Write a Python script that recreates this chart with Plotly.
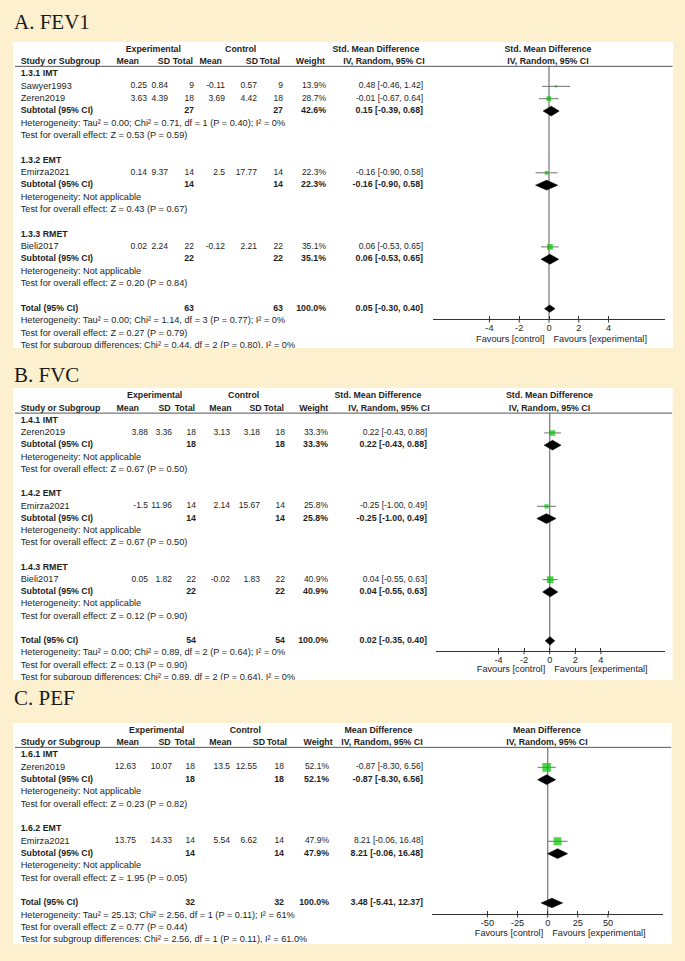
import plotly.graph_objects as go

W, H = 685, 961

# ======================= DATA =======================
# ---- A. FEV1 ----
A_subgroups = ["1.3.1 IMT", "1.3.2 EMT", "1.3.3 RMET"]
A_study = ["Sawyer1993", "Zeren2019", "Emirza2021", "Bieli2017"]
A_study_sub = [0, 0, 1, 2]
A_exp_mean = [0.25, 3.63, 0.14, 0.02]
A_exp_sd = [0.84, 4.39, 9.37, 2.24]
A_exp_n = [9, 18, 14, 22]
A_ctl_mean = [-0.11, 3.69, 2.5, -0.12]
A_ctl_sd = [0.57, 4.42, 17.77, 2.21]
A_ctl_n = [9, 18, 14, 22]
A_weight = [13.9, 28.7, 22.3, 35.1]
A_est = [0.48, -0.01, -0.16, 0.06]
A_lo = [-0.46, -0.67, -0.90, -0.53]
A_hi = [1.42, 0.64, 0.58, 0.65]
A_sub_exp_n = [27, 14, 22]
A_sub_ctl_n = [27, 14, 22]
A_sub_weight = [42.6, 22.3, 35.1]
A_sub_est = [0.15, -0.16, 0.06]
A_sub_lo = [-0.39, -0.90, -0.53]
A_sub_hi = [0.68, 0.58, 0.65]
A_sub_het = ["Heterogeneity: Tau² = 0.00; Chi² = 0.71, df = 1 (P = 0.40); I² = 0%",
             "Heterogeneity: Not applicable",
             "Heterogeneity: Not applicable"]
A_sub_z = ["Test for overall effect: Z = 0.53 (P = 0.59)",
           "Test for overall effect: Z = 0.43 (P = 0.67)",
           "Test for overall effect: Z = 0.20 (P = 0.84)"]
A_tot_n = [63, 63]
A_tot_weight = 100.0
A_tot_ci = [0.05, -0.30, 0.40]
A_tot_het = "Heterogeneity: Tau² = 0.00; Chi² = 1.14, df = 3 (P = 0.77); I² = 0%"
A_tot_z = "Test for overall effect: Z = 0.27 (P = 0.79)"
A_subdiff = "Test for subgroup differences: Chi² = 0.44, df = 2 (P = 0.80), I² = 0%"
A_ticks = [-4, -2, 0, 2, 4]

# ---- B. FVC ----
B_subgroups = ["1.4.1 IMT", "1.4.2 EMT", "1.4.3 RMET"]
B_study = ["Zeren2019", "Emirza2021", "Bieli2017"]
B_study_sub = [0, 1, 2]
B_exp_mean = [3.88, -1.5, 0.05]
B_exp_sd = [3.36, 11.96, 1.82]
B_exp_n = [18, 14, 22]
B_ctl_mean = [3.13, 2.14, -0.02]
B_ctl_sd = [3.18, 15.67, 1.83]
B_ctl_n = [18, 14, 22]
B_weight = [33.3, 25.8, 40.9]
B_est = [0.22, -0.25, 0.04]
B_lo = [-0.43, -1.00, -0.55]
B_hi = [0.88, 0.49, 0.63]
B_sub_exp_n = [18, 14, 22]
B_sub_ctl_n = [18, 14, 22]
B_sub_weight = [33.3, 25.8, 40.9]
B_sub_est = [0.22, -0.25, 0.04]
B_sub_lo = [-0.43, -1.00, -0.55]
B_sub_hi = [0.88, 0.49, 0.63]
B_sub_het = ["Heterogeneity: Not applicable"] * 3
B_sub_z = ["Test for overall effect: Z = 0.67 (P = 0.50)",
           "Test for overall effect: Z = 0.67 (P = 0.50)",
           "Test for overall effect: Z = 0.12 (P = 0.90)"]
B_tot_n = [54, 54]
B_tot_weight = 100.0
B_tot_ci = [0.02, -0.35, 0.40]
B_tot_het = "Heterogeneity: Tau² = 0.00; Chi² = 0.89, df = 2 (P = 0.64); I² = 0%"
B_tot_z = "Test for overall effect: Z = 0.13 (P = 0.90)"
B_subdiff = "Test for subgroup differences: Chi² = 0.89, df = 2 (P = 0.64), I² = 0%"
B_ticks = [-4, -2, 0, 2, 4]

# ---- C. PEF ----
C_subgroups = ["1.6.1 IMT", "1.6.2 EMT"]
C_study = ["Zeren2019", "Emirza2021"]
C_study_sub = [0, 1]
C_exp_mean = [12.63, 13.75]
C_exp_sd = [10.07, 14.33]
C_exp_n = [18, 14]
C_ctl_mean = [13.5, 5.54]
C_ctl_sd = [12.55, 6.62]
C_ctl_n = [18, 14]
C_weight = [52.1, 47.9]
C_est = [-0.87, 8.21]
C_lo = [-8.30, -0.06]
C_hi = [6.56, 16.48]
C_sub_exp_n = [18, 14]
C_sub_ctl_n = [18, 14]
C_sub_weight = [52.1, 47.9]
C_sub_est = [-0.87, 8.21]
C_sub_lo = [-8.30, -0.06]
C_sub_hi = [6.56, 16.48]
C_sub_het = ["Heterogeneity: Not applicable"] * 2
C_sub_z = ["Test for overall effect: Z = 0.23 (P = 0.82)",
           "Test for overall effect: Z = 1.95 (P = 0.05)"]
C_tot_n = [32, 32]
C_tot_weight = 100.0
C_tot_ci = [3.48, -5.41, 12.37]
C_tot_het = "Heterogeneity: Tau² = 25.13; Chi² = 2.56, df = 1 (P = 0.11); I² = 61%"
C_tot_z = "Test for overall effect: Z = 0.77 (P = 0.44)"
C_subdiff = "Test for subgroup differences: Chi² = 2.56, df = 1 (P = 0.11), I² = 61.0%"
C_ticks = [-50, -25, 0, 25, 50]


def pack(prefix, title, measure):
    g = globals()
    keys = ["subgroups", "study", "study_sub", "exp_mean", "exp_sd", "exp_n", "ctl_mean",
            "ctl_sd", "ctl_n", "weight", "est", "lo", "hi", "sub_exp_n", "sub_ctl_n",
            "sub_weight", "sub_est", "sub_lo", "sub_hi", "sub_het", "sub_z", "tot_n",
            "tot_weight", "tot_ci", "tot_het", "tot_z", "subdiff", "ticks"]
    d = {k: g[f"{prefix}_{k}"] for k in keys}
    d["title"] = title
    d["measure"] = measure
    return d


panels_data = [
    pack("A", "A. FEV1", "Std. Mean Difference"),
    pack("B", "B. FVC", "Std. Mean Difference"),
    pack("C", "C. PEF", "Mean Difference"),
]

# ======================= LAYOUT (pixel geometry per panel) =======================
panels_layout = [
    dict(title_y=21, box=(13, 42, 673, 348), row0=74.0, rh=12.35,
         exp_c=153.3, ctl_c=240.7, ci_h1=376, ci_h2=384, plot_c=548,
         h_cols=[139, 170, 193, 222, 258, 280, 325],
         v_cols=[147, 168, 194, 225, 257, 283, 326], ci_r=423,
         axis_y=319, axl=433.3, axr=665, zero=549, unit=14.9, fav_y=339.3, tot_half=3.6),
    dict(title_y=373, box=(13, 388, 672.7, 680), row0=420.7, rh=12.23,
         exp_c=154.7, ctl_c=243.7, ci_h1=378, ci_h2=389, plot_c=549.5,
         h_cols=[139, 170.7, 195, 231.7, 261.7, 284, 328.3],
         v_cols=[148, 172, 196, 230, 260, 285, 328], ci_r=427,
         axis_y=650.7, axl=435.7, axr=665, zero=549.7, unit=12.8, fav_y=669.5, tot_half=4.2),
    dict(title_y=696.5, box=(13, 723, 671.7, 944), row0=755.0, rh=12.33,
         exp_c=156.7, ctl_c=245.3, ci_h1=378.5, ci_h2=382, plot_c=547,
         h_cols=[139, 170.7, 195, 231.7, 265, 287, 332.7],
         v_cols=[136, 172, 195, 230, 257, 284, 329], ci_r=423,
         axis_y=914, axl=431.7, axr=663.3, zero=547.7, unit=1.206, fav_y=933.3, tot_half=4.7),
]

FONT = "Liberation Sans, Arial, sans-serif"
FS = 9.2       # regular running text
FS_N = 8.5     # regular numbers in table columns
FS_B = 8.8     # bold text
TXT = "#1e1e1e"
GREEN = "#00c400"
BG = "#fdf0cf"
NAME_X = 20.7
AXC = "#333333"


def ci_text(e, l, h):
    return f"{e:.2f} [{l:.2f}, {h:.2f}]"


def num(v):
    return str(v)


fig = go.Figure()
shapes = []
annotations = []
layout_axes = {}

for pi, (d, L) in enumerate(zip(panels_data, panels_layout)):
    k = pi + 2
    xa, ya = f"x{k}", f"y{k}"
    items = []  # (xpx, row, text, align, size)

    def add(x, r, t, a, bold=False, numeric=False):
        size = FS_B if bold else (FS_N if numeric else FS)
        items.append((x, r, f"<b>{t}</b>" if bold else t, a, size))

    def px2row(p):
        return (p - L["row0"]) / L["rh"]

    hc, vc = L["h_cols"], L["v_cols"]
    # header rows
    add(L["exp_c"], -2, "Experimental", "c", True)
    add(L["ctl_c"], -2, "Control", "c", True)
    add(L["ci_h1"], -2, d["measure"], "c", True)
    add(L["plot_c"], -2, d["measure"], "c", True)
    add(NAME_X, -1, "Study or Subgroup", "l", True)
    for x, t in zip(hc, ["Mean", "SD", "Total", "Mean", "SD", "Total", "Weight"]):
        add(x, -1, t, "r", True)
    add(L["ci_h2"], -1, "IV, Random, 95% CI", "c", True)
    add(L["plot_c"], -1, "IV, Random, 95% CI", "c", True)

    row = 0
    study_rows, sub_rows = [], []
    for g, gname in enumerate(d["subgroups"]):
        add(NAME_X, row, gname, "l", True)
        row += 1
        for i, s in enumerate(d["study"]):
            if d["study_sub"][i] != g:
                continue
            add(NAME_X, row, s, "l")
            vals = [num(d["exp_mean"][i]), num(d["exp_sd"][i]), str(d["exp_n"][i]),
                    num(d["ctl_mean"][i]), num(d["ctl_sd"][i]), str(d["ctl_n"][i]),
                    f"{d['weight'][i]:.1f}%"]
            for x, t in zip(vc, vals):
                add(x, row, t, "r", numeric=True)
            add(L["ci_r"], row, ci_text(d["est"][i], d["lo"][i], d["hi"][i]), "r", numeric=True)
            study_rows.append(row)
            row += 1
        add(NAME_X, row, "Subtotal (95% CI)", "l", True)
        add(vc[2], row, str(d["sub_exp_n"][g]), "r", True)
        add(vc[5], row, str(d["sub_ctl_n"][g]), "r", True)
        add(vc[6], row, f"{d['sub_weight'][g]:.1f}%", "r", True)
        add(L["ci_r"], row, ci_text(d["sub_est"][g], d["sub_lo"][g], d["sub_hi"][g]), "r", True)
        sub_rows.append(row)
        row += 1
        add(NAME_X, row, d["sub_het"][g], "l")
        row += 1
        add(NAME_X, row, d["sub_z"][g], "l")
        row += 2
    tot_row = row
    add(NAME_X, row, "Total (95% CI)", "l", True)
    add(vc[2], row, str(d["tot_n"][0]), "r", True)
    add(vc[5], row, str(d["tot_n"][1]), "r", True)
    add(vc[6], row, f"{d['tot_weight']:.1f}%", "r", True)
    add(L["ci_r"], row, ci_text(*d["tot_ci"]), "r", True)
    add(NAME_X, row + 1, d["tot_het"], "l")
    add(NAME_X, row + 2, d["tot_z"], "l")
    add(NAME_X, row + 3, d["subdiff"], "l")

    fav_r = px2row(L["fav_y"])
    add(L["zero"] - 4.5, fav_r, "Favours [control]", "r")
    add(L["zero"] + 4.5, fav_r, "Favours [experimental]", "l")

    pos_map = {"l": "middle right", "r": "middle left", "c": "middle center"}
    for a in ["l", "r", "c"]:
        for sz in [FS, FS_N, FS_B]:
            sel = [it for it in items if it[3] == a and it[4] == sz]
            if not sel:
                continue
            fig.add_trace(go.Scatter(
                x=[it[0] for it in sel], y=[it[1] for it in sel], text=[it[2] for it in sel],
                mode="text", textposition=pos_map[a], xaxis="x", yaxis=ya,
                textfont=dict(family=FONT, size=sz, color=TXT),
                hoverinfo="skip", showlegend=False, cliponaxis=True))

    # ---- forest marks ----
    cx, cy = [], []
    for r, l, h in zip(study_rows, d["lo"], d["hi"]):
        cx += [l, h, None]
        cy += [r, r, None]
    fig.add_trace(go.Scatter(x=cx, y=cy, mode="lines", xaxis=xa, yaxis=ya,
                             line=dict(color="#707070", width=1),
                             hoverinfo="skip", showlegend=False))
    fig.add_trace(go.Scatter(x=d["est"], y=study_rows, mode="markers", xaxis=xa, yaxis=ya,
                             marker=dict(symbol="square", color=GREEN,
                                         size=[max(2.4, 0.165 * w) for w in d["weight"]],
                                         line=dict(width=0)),
                             hoverinfo="skip", showlegend=False))
    dx, dy = [], []
    sub_half = 4.9 / L["rh"]
    for r, e, l, h in zip(sub_rows, d["sub_est"], d["sub_lo"], d["sub_hi"]):
        dx += [l, e, h, e, l, None]
        dy += [r, r - sub_half, r, r + sub_half, r, None]
    th = L["tot_half"] / L["rh"]
    e, l, h = d["tot_ci"]
    dx += [l, e, h, e, l]
    dy += [tot_row, tot_row - th, tot_row, tot_row + th, tot_row]
    fig.add_trace(go.Scatter(x=dx, y=dy, mode="lines", fill="toself", fillcolor="#000000",
                             line=dict(color="#000000", width=0.6), xaxis=xa, yaxis=ya,
                             hoverinfo="skip", showlegend=False))

    # lower half of the axis ticks (ticks cross the axis line)
    ar = px2row(L["axis_y"])
    tx, ty = [], []
    for t in d["ticks"]:
        tx += [t, t, None]
        ty += [ar, ar + 3.5 / L["rh"], None]
    fig.add_trace(go.Scatter(x=tx, y=ty, mode="lines", xaxis=xa, yaxis=ya,
                             line=dict(color=AXC, width=1),
                             hoverinfo="skip", showlegend=False))

    # ---- axes ----
    x0, y0, x1, y1 = L["box"]
    layout_axes[f"xaxis{k}"] = dict(
        domain=[L["axl"] / W, L["axr"] / W],
        range=[(L["axl"] - L["zero"]) / L["unit"], (L["axr"] - L["zero"]) / L["unit"]],
        anchor="free", position=1 - L["axis_y"] / H,
        showline=True, linecolor=AXC, linewidth=1,
        ticks="inside", ticklen=3, tickwidth=1, tickcolor=AXC,
        tickvals=d["ticks"], ticktext=[str(t) for t in d["ticks"]],
        tickfont=dict(family=FONT, size=FS, color=TXT),
        showgrid=False, zeroline=False, fixedrange=True)
    layout_axes[f"yaxis{k}"] = dict(
        domain=[1 - y1 / H, 1 - y0 / H],
        range=[px2row(y1), px2row(y0)],
        anchor="free", position=0, visible=False, fixedrange=True)

    # ---- shapes ----
    shapes.append(dict(type="rect", xref="paper", yref="paper", layer="below",
                       x0=x0 / W, x1=x1 / W, y0=1 - y1 / H, y1=1 - y0 / H,
                       fillcolor="white", line=dict(width=0)))
    hl = -0.62
    shapes.append(dict(type="line", xref="paper", yref=ya, x0=15 / W, x1=(x1 - 0.5) / W,
                       y0=hl, y1=hl, line=dict(color="#555555", width=1)))
    shapes.append(dict(type="line", xref=xa, yref=ya, x0=0, x1=0,
                       y0=hl, y1=ar,
                       line=dict(color="#808080", width=1.3), layer="below"))

    annotations.append(dict(text=d["title"], xref="paper", yref="paper",
                            x=12.0 / W, y=1 - (L["title_y"] + 1.5) / H,
                            xanchor="left", yanchor="middle", showarrow=False,
                            font=dict(family="Liberation Serif, Times New Roman, serif",
                                      size=21, color="#1a1a1a")))

fig.update_layout(
    width=W, height=H, autosize=False,
    margin=dict(l=0, r=0, t=0, b=0),
    paper_bgcolor=BG, plot_bgcolor="rgba(0,0,0,0)",
    xaxis=dict(domain=[0, 1], range=[0, W], visible=False, fixedrange=True),
    yaxis=dict(domain=[0, 1], range=[H, 0], visible=False, fixedrange=True),
    shapes=shapes, annotations=annotations, showlegend=False,
    **layout_axes)

fig.write_html("out.html", config=dict(displayModeBar=False),
               post_script="document.body.style.margin='0px';"
                           "document.documentElement.style.overflow='hidden';")
